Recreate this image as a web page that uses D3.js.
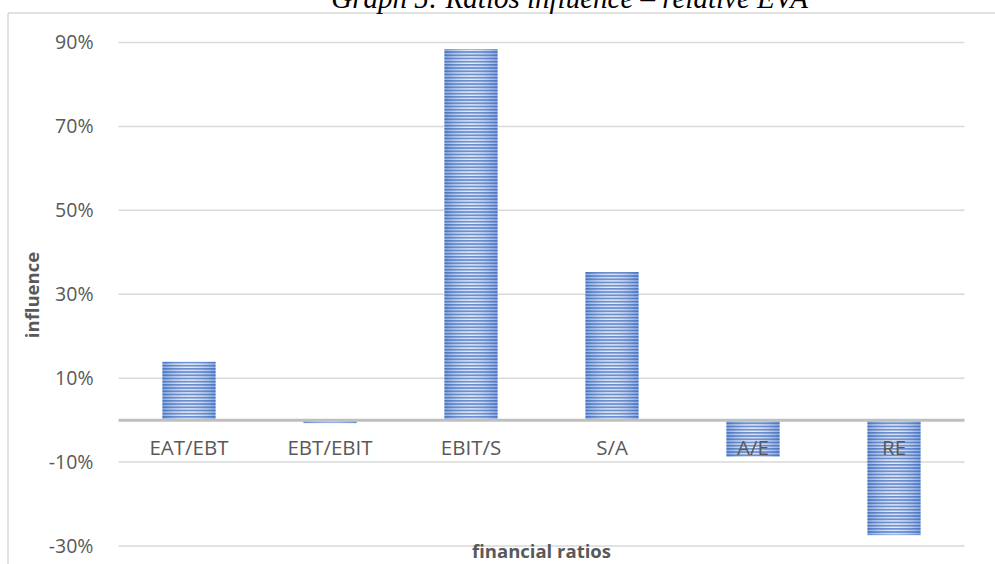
<!DOCTYPE html>
<html><head><meta charset="utf-8">
<script src="https://cdn.jsdelivr.net/npm/d3@7/dist/d3.min.js"></script>
<style>
html,body{margin:0;padding:0;background:#fff;}
svg{display:block;}
</style></head>
<body>
<svg id="chart" width="995" height="564"></svg>
<script>
const categories = ["EAT/EBT","EBT/EBIT","EBIT/S","S/A","A/E","RE"];
const values = [13.9, -0.7, 88.4, 35.3, -8.7, -27.4];
const yTicks = [-30, -10, 10, 30, 50, 70, 90];
const titleText = "Graph 5: Ratios influence \u2013 relative EVA";
const yTitle = "influence";
const xTitle = "financial ratios";

const W = 995, H = 564;
const svg = d3.select("#chart");
const font = "'Open Sans', Lato, sans-serif";

const plot = {left: 118.5, right: 964.5, top: 42.5, bottom: 546};
const x = d3.scaleBand().domain(categories).range([plot.left, plot.right]).paddingInner(0.624).paddingOuter(0.312);
const y = d3.scaleLinear().domain([-30, 90]).range([plot.bottom, plot.top]);

const defs = svg.append("defs");
const pat = defs.append("pattern").attr("id","stripes").attr("patternUnits","userSpaceOnUse")
  .attr("width", 10).attr("height", 3.2);
pat.append("rect").attr("width",10).attr("height",3.2).attr("fill","#e4eaf7");
pat.append("rect").attr("width",10).attr("height",1.8).attr("fill","#4472c4");
const grad = defs.append("linearGradient").attr("id","shade").attr("x1","0").attr("x2","1").attr("y1","0").attr("y2","0");
grad.append("stop").attr("offset","0").attr("stop-color","#4472c4").attr("stop-opacity",0.5);
grad.append("stop").attr("offset","0.5").attr("stop-color","#ffffff").attr("stop-opacity",0.2);
grad.append("stop").attr("offset","1").attr("stop-color","#4472c4").attr("stop-opacity",0.5);

// frame
svg.append("line").attr("x1",8).attr("x2",W).attr("y1",13).attr("y2",13).attr("stroke","#d9d9d9").attr("stroke-width",1.5);
svg.append("line").attr("x1",8).attr("x2",8).attr("y1",13).attr("y2",H).attr("stroke","#d9d9d9").attr("stroke-width",1.5);

// title
svg.append("text").attr("x",808).attr("y",8).attr("text-anchor","end")
  .attr("font-family","'Liberation Serif', 'Times New Roman', serif").attr("font-style","italic")
  .attr("font-size",29).attr("fill","#000").text(titleText);

// gridlines
svg.append("g").selectAll("line").data(yTicks).join("line")
  .attr("x1",plot.left).attr("x2",plot.right)
  .attr("y1",d=>y(d)).attr("y2",d=>y(d))
  .attr("stroke","#d9d9d9").attr("stroke-width",1.5);

// y axis labels
const yAxis = d3.axisLeft(y).tickValues(yTicks).tickSize(0).tickPadding(0).tickFormat(d=>d+"%");
const gy = svg.append("g").attr("transform",`translate(${93.5},0)`).call(yAxis);
gy.select(".domain").remove();
gy.selectAll("text").attr("font-family",font).attr("font-size",19.5).attr("fill","#595959");

// bars
const bars = svg.append("g");
categories.forEach((c,i)=>{
  const v = values[i];
  const y0 = y(Math.max(0,v)), h = Math.abs(y(v)-y(0));
  bars.append("rect").attr("x",x(c)).attr("y",y0).attr("width",x.bandwidth()).attr("height",h).attr("fill","url(#stripes)");
  bars.append("rect").attr("x",x(c)).attr("y",y0).attr("width",x.bandwidth()).attr("height",h).attr("fill","url(#shade)");
});

// zero line
svg.append("line").attr("x1",plot.left).attr("x2",plot.right).attr("y1",y(0)).attr("y2",y(0))
  .attr("stroke","#bfbfbf").attr("stroke-width",3);

// category labels
const xAxis = d3.axisBottom(x).tickSize(0).tickPadding(0);
const gx = svg.append("g").attr("transform",`translate(0,${y(0)+34.5})`).call(xAxis);
gx.select(".domain").remove();
gx.selectAll("text").attr("dy",null).attr("font-family",font).attr("font-size",20.5).attr("fill","#595959");

// axis titles
svg.append("text").attr("transform",`translate(39,${295}) rotate(-90)`).attr("text-anchor","middle")
  .attr("font-family",font).attr("font-weight","bold").attr("font-size",18.5).attr("fill","#595959").text(yTitle);
svg.append("text").attr("x",541.5).attr("y",558).attr("text-anchor","middle")
  .attr("font-family",font).attr("font-weight","bold").attr("font-size",18.5).attr("fill","#595959").text(xTitle);
</script>
</body></html>
